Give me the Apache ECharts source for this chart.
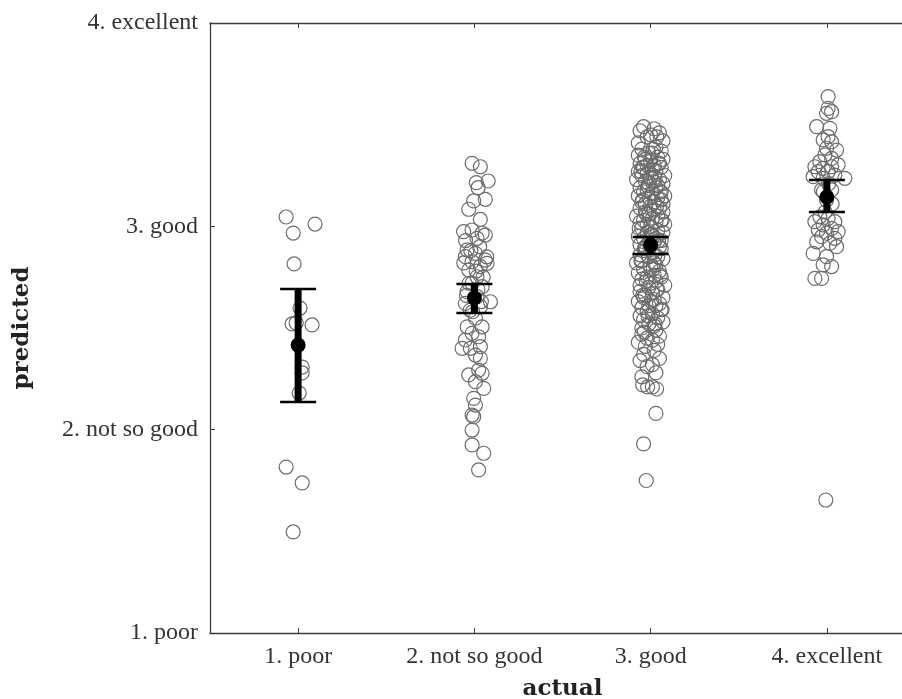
<!DOCTYPE html>
<html>
<head>
<meta charset="utf-8">
<script src="https://cdn.jsdelivr.net/npm/echarts@6/dist/echarts.min.js"></script>
<style>
  html, body { margin: 0; padding: 0; background: #ffffff; }
  #chart { width: 902px; height: 699px; }
</style>
</head>
<body>
<div id="chart"></div>
<script>
// Rating classes (x axis: actual, y axis: predicted)
const categories = ['1. poor', '2. not so good', '3. good', '4. excellent'];
const ratingLabels = ['1. poor', '2. not so good', '3. good', '4. excellent'];
const ratingTicks = [1, 2, 3, 4];

// Predicted ratings per actual class, plus the horizontal jitter of each point
const poorPred = [3.046, 2.967, 3.011, 2.815, 2.598, 2.525, 2.520, 2.515, 2.308, 2.279, 2.180, 1.816, 1.738, 1.497];
const poorJitter = [-0.068, -0.028, 0.096, -0.023, 0.011, -0.011, -0.034, 0.079, 0.023, 0.023, 0.006, -0.068, 0.023, -0.028];

const notSoGoodPred = [
  3.310, 3.293, 3.223, 3.215, 3.190, 3.133, 3.125, 3.084, 3.034, 2.974,
  2.982, 2.966, 2.941, 2.957, 2.884, 2.867, 2.834, 2.851, 2.826, 2.802,
  2.818, 2.785, 2.752, 2.720, 2.703, 2.679, 2.629, 2.654, 2.621, 2.605,
  2.588, 2.548, 2.506, 2.506, 2.474, 2.457, 2.441, 2.400, 2.400, 2.408,
  2.367, 2.351, 2.293, 2.269, 2.277, 2.236, 2.203, 2.154, 2.121, 2.072,
  2.064, 1.998, 1.925, 1.884, 1.802,
  2.93, 2.90, 2.88, 2.85, 2.82, 2.78, 2.75, 2.72, 2.69, 2.66, 2.63, 2.58
];
const notSoGoodJitter = [
  -0.013, 0.034, 0.078, 0.011, 0.021, 0.062, -0.004, -0.032, 0.034, -0.061,
  -0.013, 0.044, 0.015, 0.062, -0.041, 0.006, 0.062, -0.051, -0.013, 0.034,
  0.072, -0.032, 0.015, -0.013, 0.044, -0.041, 0.091, 0.015, -0.051, 0.034,
  -0.023, 0.006, -0.041, 0.044, -0.013, 0.024, -0.051, -0.070, -0.023, 0.034,
  0.006, 0.034, 0.024, -0.032, 0.044, 0.006, 0.053, -0.004, 0.006, -0.013,
  -0.004, -0.013, -0.013, 0.053, 0.024,
  -0.050, 0.030, -0.020, 0.070, -0.060, 0.010, 0.050, -0.030, 0.020, -0.045, 0.040, -0.010
];

const goodPred = [
  3.49, 3.48, 3.47, 3.46, 3.45, 3.44, 3.42, 3.41,
  3.39, 3.38, 3.37, 3.36, 3.36, 3.35, 3.34, 3.33, 3.33, 3.32, 3.31, 3.31, 3.30, 3.30,
  3.29, 3.29, 3.28, 3.27, 3.27, 3.26, 3.25, 3.25, 3.24, 3.23, 3.23, 3.22, 3.22, 3.21, 3.21, 3.20,
  3.19, 3.19, 3.18, 3.17, 3.17, 3.16, 3.15, 3.15, 3.14, 3.14, 3.13, 3.12, 3.12, 3.11, 3.11, 3.10,
  3.09, 3.09, 3.08, 3.07, 3.07, 3.06, 3.05, 3.05, 3.04, 3.03, 3.03, 3.02, 3.02, 3.01, 3.01, 3.00,
  2.99, 2.98, 2.97, 2.97, 2.96, 2.95, 2.94, 2.94, 2.93, 2.92, 2.92, 2.91, 2.90, 2.90,
  2.89, 2.88, 2.87, 2.86, 2.85, 2.85, 2.84, 2.83, 2.82, 2.82, 2.81, 2.80,
  2.79, 2.78, 2.77, 2.76, 2.75, 2.75, 2.74, 2.73, 2.72, 2.71, 2.71, 2.70,
  2.69, 2.68, 2.67, 2.66, 2.65, 2.65, 2.64, 2.63, 2.62, 2.61, 2.61, 2.60,
  2.59, 2.58, 2.57, 2.56, 2.55, 2.54, 2.53, 2.52, 2.51, 2.50,
  2.49, 2.47, 2.46, 2.45, 2.44, 2.43, 2.42, 2.41,
  2.39, 2.37, 2.35, 2.34, 2.32, 2.31,
  2.28, 2.26, 2.22, 2.21, 2.21, 2.20,
  2.08, 1.93, 1.75,
  3.38, 3.34, 3.31, 3.27, 3.24, 3.20, 3.17, 3.13, 3.10, 3.06,
  3.03, 2.99, 2.96, 2.93, 2.89, 2.86, 2.83, 2.79, 2.76, 2.73,
  2.69, 2.66, 2.63, 2.59, 2.56, 2.52, 2.48, 3.44, 3.29, 2.95
];
const goodJitter = [
  -0.04, 0.02, -0.06, 0.05, 0.00, -0.02, 0.07, -0.07,
  0.03, -0.05, 0.06, -0.01, 0.01, -0.07, 0.04, -0.03, 0.07, 0.00, -0.06, 0.05, -0.02, 0.02,
  -0.04, 0.06, 0.01, -0.07, 0.03, -0.02, 0.08, -0.05, 0.00, 0.05, -0.08, 0.02, -0.03, 0.07, -0.01, 0.04,
  -0.06, 0.03, -0.02, 0.06, -0.04, 0.01, 0.08, -0.07, 0.04, -0.01, 0.06, -0.05, 0.02, -0.03, 0.07, 0.00,
  0.05, -0.06, 0.02, -0.03, 0.07, -0.01, 0.04, -0.08, 0.01, 0.06, -0.04, 0.03, -0.06, 0.08, -0.02, 0.00,
  -0.05, 0.04, -0.02, 0.07, 0.01, -0.07, 0.03, -0.04, 0.06, -0.01, 0.02, -0.06, 0.05, -0.03,
  0.06, -0.03, 0.01, -0.06, 0.04, -0.01, 0.07, -0.05, 0.02, -0.08, 0.03, 0.00,
  -0.04, 0.05, -0.07, 0.02, -0.02, 0.06, -0.05, 0.03, 0.00, -0.06, 0.08, -0.01,
  0.04, -0.06, 0.01, -0.03, 0.07, -0.04, 0.02, -0.07, 0.05, -0.01, 0.03, -0.05,
  0.06, -0.02, 0.01, -0.06, 0.04, -0.04, 0.07, -0.01, 0.02, -0.05,
  0.03, -0.05, 0.05, -0.02, 0.01, -0.07, 0.04, -0.03,
  0.02, -0.04, 0.05, -0.06, 0.01, -0.02,
  0.03, -0.05, -0.045, -0.017, 0.01, 0.034,
  0.03, -0.04, -0.025,
  0.015, -0.035, 0.045, -0.055, 0.025, -0.015, 0.055, -0.045, 0.035, -0.025,
  0.065, -0.065, 0.005, 0.045, -0.035, 0.025, -0.055, 0.015, 0.055, -0.025,
  0.035, -0.045, 0.005, 0.065, -0.015, 0.025, -0.035, 0.035, -0.045, 0.015
];

const excellentPred = [
  3.638, 3.580, 3.564, 3.556, 3.490, 3.482, 3.441, 3.416, 3.425, 3.384,
  3.375, 3.351, 3.334, 3.318, 3.293, 3.285, 3.293, 3.302, 3.269, 3.269,
  3.236, 3.244, 3.252, 3.236, 3.179, 3.179, 3.129, 3.047, 3.039, 3.023,
  3.023, 3.007, 2.990, 2.982, 2.974, 2.966, 2.949, 2.941, 2.924, 2.917,
  2.900, 2.867, 2.851, 2.810, 2.802, 2.744, 2.744, 1.654,
  3.21, 3.17, 3.11, 3.07
];
const excellentJitter = [
  0.007, 0.007, 0.027, -0.002, -0.058, 0.017, 0.007, 0.027, -0.021, -0.002,
  0.055, -0.011, 0.027, -0.040, -0.068, -0.021, 0.027, 0.064, -0.049, 0.007,
  0.102, -0.078, 0.045, -0.021, -0.030, 0.027, -0.002, -0.040, 0.007, -0.068,
  0.045, -0.021, 0.027, -0.049, 0.064, -0.002, -0.030, 0.045, -0.058, 0.017,
  0.055, -0.078, -0.002, -0.021, 0.027, -0.068, -0.030, -0.006,
  0.010, -0.020, 0.030, -0.010
];

// Class means of the predicted rating with their confidence limits
const meanPred = [2.416, 2.648, 2.908, 3.144];
const ciLow = [2.136, 2.574, 2.864, 3.070];
const ciHigh = [2.692, 2.716, 2.948, 3.228];

const groups = [
  { pred: poorPred, jitter: poorJitter },
  { pred: notSoGoodPred, jitter: notSoGoodJitter },
  { pred: goodPred, jitter: goodJitter },
  { pred: excellentPred, jitter: excellentJitter }
];

const FONT = 'Liberation Serif';
const NAME_FONT = 'DejaVu Serif';
const AXIS_COLOR = '#3c3c3c';
const TEXT_COLOR = '#333333';

const pointSeries = groups.map((g, i) => ({
  type: 'scatter',
  name: categories[i],
  xAxisIndex: 0,
  yAxisIndex: 0,
  symbol: 'circle',
  symbolSize: 14,
  silent: true,
  z: 2,
  itemStyle: { color: 'rgba(0,0,0,0)', borderColor: '#6c6c6c', borderWidth: 1.2, opacity: 1 },
  data: g.pred.map((v, k) => [i + 1 + g.jitter[k], v])
}));

function renderErrorBar(params, api) {
  const x = api.value(0);
  const lo = api.coord([x, api.value(1)]);
  const hi = api.coord([x, api.value(2)]);
  const mid = api.coord([x, api.value(3)]);
  const cap = 18;
  return {
    type: 'group',
    children: [
      { type: 'line', shape: { x1: lo[0], y1: lo[1], x2: hi[0], y2: hi[1] },
        style: { stroke: '#000', lineWidth: 7 } },
      { type: 'line', shape: { x1: lo[0] - cap, y1: lo[1], x2: lo[0] + cap, y2: lo[1] },
        style: { stroke: '#000', lineWidth: 2.5 } },
      { type: 'line', shape: { x1: hi[0] - cap, y1: hi[1], x2: hi[0] + cap, y2: hi[1] },
        style: { stroke: '#000', lineWidth: 2.5 } },
      { type: 'circle', shape: { cx: mid[0], cy: mid[1], r: 7.5 },
        style: { fill: '#000' } }
    ]
  };
}

const chart = echarts.init(document.getElementById('chart'), null, { renderer: 'canvas' });
chart.setOption({
  animation: false,
  backgroundColor: '#ffffff',
  grid: { left: 210, top: 23, width: 705, height: 610, containLabel: false, outerBoundsMode: 'none' },
  xAxis: [
    {
      type: 'value', position: 'bottom', min: 0.5, max: 4.5,
      name: 'actual', nameLocation: 'middle', nameGap: 45,
      nameTextStyle: { fontFamily: NAME_FONT, fontSize: 23, fontWeight: 'bold', color: '#222' },
      axisLine: { show: true, onZero: false, lineStyle: { color: AXIS_COLOR, width: 1.3 } },
      axisTick: { show: true, inside: true, length: 5, customValues: ratingTicks,
        lineStyle: { color: AXIS_COLOR, width: 1 } },
      axisLabel: { show: true, customValues: ratingTicks, margin: 12,
        formatter: v => categories[Math.round(v) - 1],
        fontFamily: FONT, fontSize: 24, color: TEXT_COLOR },
      splitLine: { show: false }
    },
    {
      type: 'value', position: 'top', min: 0.5, max: 4.5,
      axisLine: { show: true, onZero: false, lineStyle: { color: AXIS_COLOR, width: 1.3 } },
      axisTick: { show: true, inside: true, length: 5, customValues: ratingTicks,
        lineStyle: { color: AXIS_COLOR, width: 1 } },
      axisLabel: { show: false },
      splitLine: { show: false }
    }
  ],
  yAxis: {
    type: 'value', min: 1, max: 4, interval: 1,
    name: 'predicted', nameLocation: 'middle', nameGap: 176, nameRotate: 90,
    nameTextStyle: { fontFamily: NAME_FONT, fontSize: 23, fontWeight: 'bold', color: '#222' },
    axisLine: { show: true, onZero: false, lineStyle: { color: AXIS_COLOR, width: 1.3 } },
    axisTick: { show: true, inside: true, length: 5, lineStyle: { color: AXIS_COLOR, width: 1 } },
    axisLabel: { margin: 12, formatter: v => ratingLabels[Math.round(v) - 1],
      fontFamily: FONT, fontSize: 24, color: TEXT_COLOR },
    splitLine: { show: false }
  },
  series: pointSeries.concat([{
    type: 'custom',
    name: 'mean',
    xAxisIndex: 0,
    yAxisIndex: 0,
    silent: true,
    z: 5,
    renderItem: renderErrorBar,
    encode: { x: 0, y: [1, 2, 3] },
    data: meanPred.map((m, i) => [i + 1, ciLow[i], ciHigh[i], m])
  }])
});
</script>
</body>
</html>
